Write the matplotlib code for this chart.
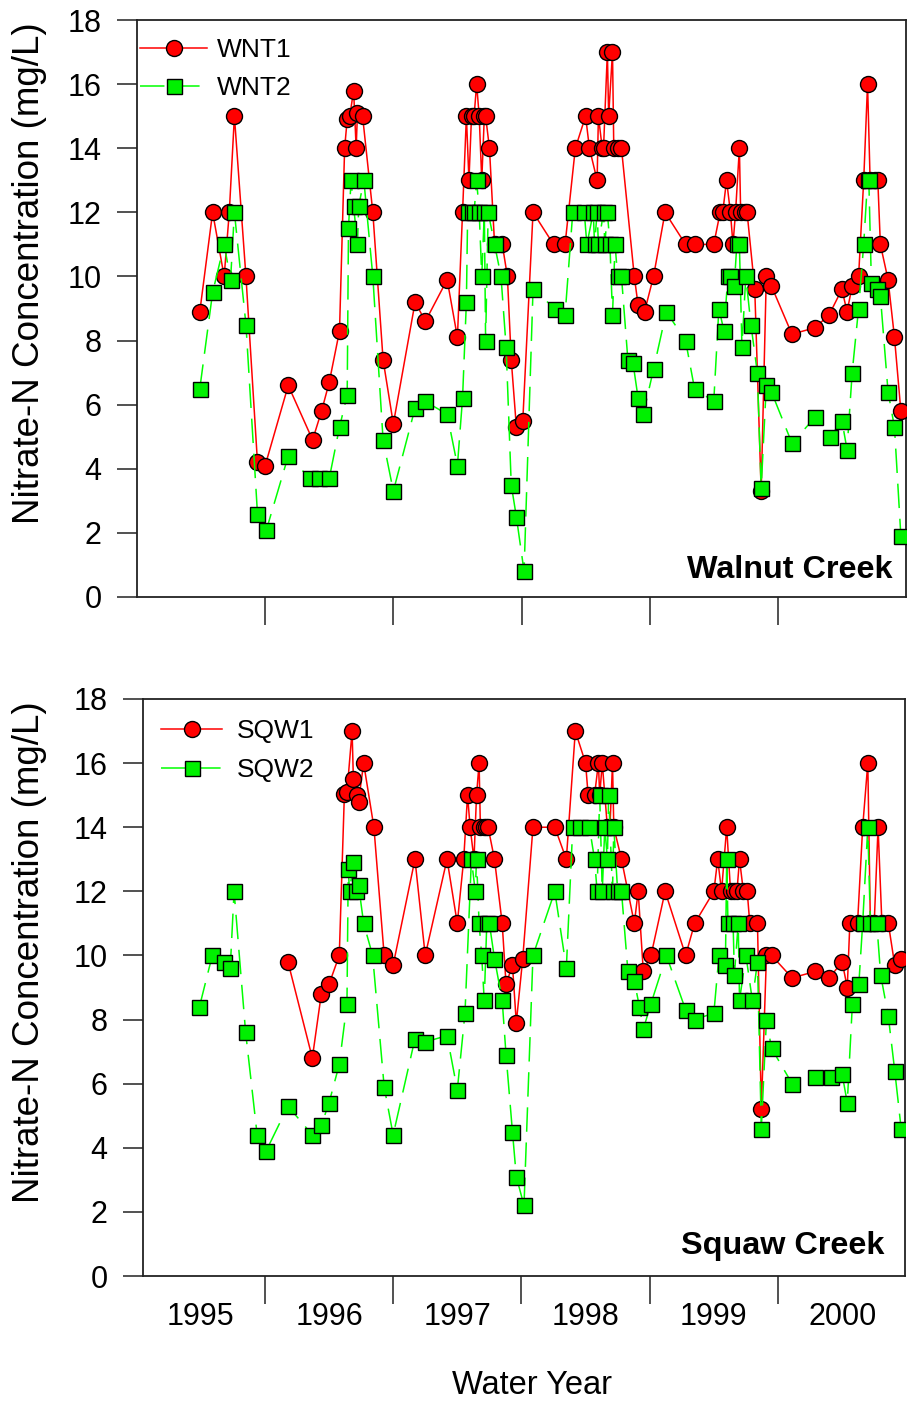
import matplotlib
matplotlib.use("Agg")
import matplotlib.pyplot as plt

plt.rcParams['font.family'] = ['Liberation Sans', 'DejaVu Sans']

# Walnut Creek wells (decimal year, nitrate-N mg/L)
wnt1_t = [1995.24, 1995.34, 1995.43, 1995.47, 1995.51, 1995.60, 1995.69, 1995.75,
          1995.93, 1996.12, 1996.19, 1996.25, 1996.33, 1996.37, 1996.39, 1996.41,
          1996.44, 1996.46, 1996.47, 1996.51, 1996.59, 1996.67, 1996.75, 1996.92,
          1997.00, 1997.17, 1997.25, 1997.29, 1997.32, 1997.34, 1997.36, 1997.38,
          1997.40, 1997.42, 1997.44, 1997.46, 1997.47, 1997.50, 1997.54, 1997.60,
          1997.64, 1997.67, 1997.71, 1997.76, 1997.84, 1998.00, 1998.09, 1998.17,
          1998.25, 1998.28, 1998.34, 1998.35, 1998.38, 1998.39, 1998.42, 1998.43,
          1998.46, 1998.47, 1998.50, 1998.53, 1998.63, 1998.66, 1998.71, 1998.78,
          1998.87, 1999.03, 1999.10, 1999.25, 1999.30, 1999.32, 1999.35, 1999.38,
          1999.40, 1999.42, 1999.45, 1999.46, 1999.49, 1999.51, 1999.57, 1999.62,
          1999.66, 1999.70, 1999.86, 2000.04, 2000.15, 2000.25, 2000.29, 2000.33,
          2000.38, 2000.42, 2000.45, 2000.47, 2000.51, 2000.53, 2000.55, 2000.61,
          2000.66, 2000.71]
wnt1 = [8.9, 12, 10, 12, 15, 10, 4.2, 4.1,
        6.6, 4.9, 5.8, 6.7, 8.3, 14, 14.9, 15,
        15.8, 14, 15.1, 15, 12, 7.4, 5.4, 9.2,
        8.6, 9.9, 8.1, 12, 15, 13, 15, 15,
        16, 15, 13, 15, 15, 14, 11, 11,
        10, 7.4, 5.3, 5.5, 12, 11, 11, 14,
        15, 14, 13, 15, 14, 14, 17, 15,
        17, 14, 14, 14, 10, 9.1, 8.9, 10,
        12, 11, 11, 11, 12, 12, 13, 12,
        11, 12, 14, 12, 12, 12, 9.6, 3.3,
        10, 9.7, 8.2, 8.4, 8.8, 9.6, 8.9, 9.7,
        10, 13, 16, 13, 13, 13, 11, 9.9,
        8.1, 5.8]

wnt2_t = [1995.24, 1995.34, 1995.43, 1995.48, 1995.51, 1995.60, 1995.69, 1995.76,
          1995.93, 1996.10, 1996.17, 1996.25, 1996.33, 1996.39, 1996.40, 1996.42,
          1996.44, 1996.47, 1996.48, 1996.52, 1996.59, 1996.67, 1996.75, 1996.92,
          1997.00, 1997.17, 1997.25, 1997.29, 1997.32, 1997.33, 1997.36, 1997.38,
          1997.40, 1997.42, 1997.44, 1997.46, 1997.47, 1997.49, 1997.54, 1997.59,
          1997.63, 1997.67, 1997.71, 1997.77, 1997.84, 1998.01, 1998.09, 1998.15,
          1998.24, 1998.26, 1998.31, 1998.32, 1998.34, 1998.35, 1998.39, 1998.40,
          1998.42, 1998.44, 1998.46, 1998.48, 1998.50, 1998.53, 1998.58, 1998.62,
          1998.66, 1998.70, 1998.78, 1998.88, 1999.03, 1999.10, 1999.25, 1999.29,
          1999.33, 1999.36, 1999.38, 1999.41, 1999.43, 1999.45, 1999.47, 1999.50,
          1999.54, 1999.59, 1999.62, 1999.66, 1999.70, 1999.86, 2000.04, 2000.16,
          2000.25, 2000.29, 2000.33, 2000.38, 2000.42, 2000.45, 2000.46, 2000.48,
          2000.52, 2000.55, 2000.61, 2000.66, 2000.71]
wnt2 = [6.5, 9.5, 11, 9.9, 12, 8.5, 2.6, 2.1,
        4.4, 3.7, 3.7, 3.7, 5.3, 6.3, 11.5, 13,
        12.2, 11, 12.2, 13, 10, 4.9, 3.3, 5.9,
        6.1, 5.7, 4.1, 6.2, 9.2, 12, 12, 12,
        13, 12, 10, 12, 8.0, 12, 11, 10,
        7.8, 3.5, 2.5, 0.8, 9.6, 9.0, 8.8, 12,
        12, 11, 12, 11, 12, 11, 12, 11,
        12, 11, 8.8, 11, 10, 10, 7.4, 7.3,
        6.2, 5.7, 7.1, 8.9, 8.0, 6.5, 6.1, 9.0,
        8.3, 10, 10, 9.7, 11, 11, 7.8, 10,
        8.5, 7.0, 3.4, 6.6, 6.4, 4.8, 5.6, 5.0,
        5.5, 4.6, 7.0, 9.0, 11, 13, 13, 9.8,
        9.6, 9.4, 6.4, 5.3, 1.9]

# Squaw Creek wells
sqw1_t = [1995.93, 1996.12, 1996.19, 1996.25, 1996.33, 1996.37, 1996.39, 1996.43,
          1996.44, 1996.47, 1996.48, 1996.52, 1996.60, 1996.68, 1996.75, 1996.92,
          1997.00, 1997.17, 1997.25, 1997.30, 1997.33, 1997.35, 1997.38, 1997.40,
          1997.42, 1997.43, 1997.46, 1997.47, 1997.49, 1997.54, 1997.60, 1997.63,
          1997.68, 1997.71, 1997.76, 1997.84, 1998.01, 1998.10, 1998.17, 1998.25,
          1998.27, 1998.32, 1998.35, 1998.36, 1998.38, 1998.42, 1998.44, 1998.46,
          1998.47, 1998.53, 1998.63, 1998.66, 1998.70, 1998.76, 1998.87, 1999.03,
          1999.10, 1999.25, 1999.28, 1999.31, 1999.35, 1999.38, 1999.41, 1999.43,
          1999.45, 1999.48, 1999.51, 1999.53, 1999.59, 1999.62, 1999.66, 1999.70,
          1999.86, 2000.04, 2000.15, 2000.25, 2000.29, 2000.31, 2000.37, 2000.41,
          2000.45, 2000.47, 2000.50, 2000.53, 2000.56, 2000.61, 2000.66, 2000.71]
sqw1 = [9.8, 6.8, 8.8, 9.1, 10.0, 15.05, 15.1, 17.0,
        15.5, 15.0, 14.8, 16.0, 14.0, 10.0, 9.7, 13.0,
        10.0, 13.0, 11.0, 13.0, 15.0, 14.0, 13.0, 15.0,
        16.0, 14.0, 14.0, 14.0, 14.0, 13.0, 11.0, 9.1,
        9.7, 7.9, 9.9, 14.0, 14.0, 13.0, 17.0, 16.0,
        15.0, 15.0, 16.0, 15.0, 16.0, 14.0, 14.0, 16.0,
        14.0, 13.0, 11.0, 12.0, 9.5, 10.0, 12.0, 10.0,
        11.0, 12.0, 13.0, 12.0, 14.0, 12.0, 12.0, 12.0,
        13.0, 12.0, 12.0, 11.0, 11.0, 5.2, 10.0, 10.0,
        9.3, 9.5, 9.3, 9.8, 9.0, 11.0, 11.0, 14.0,
        16.0, 11.0, 11.0, 14.0, 11.0, 11.0, 9.7, 9.9]

sqw2_t = [1995.24, 1995.34, 1995.43, 1995.48, 1995.51, 1995.60, 1995.69, 1995.76,
          1995.93, 1996.12, 1996.19, 1996.25, 1996.33, 1996.39, 1996.40, 1996.41,
          1996.44, 1996.46, 1996.48, 1996.52, 1996.59, 1996.68, 1996.75, 1996.92,
          1997.00, 1997.17, 1997.25, 1997.31, 1997.36, 1997.39, 1997.40, 1997.42,
          1997.44, 1997.46, 1997.48, 1997.50, 1997.54, 1997.60, 1997.63, 1997.68,
          1997.71, 1997.77, 1997.84, 1998.01, 1998.10, 1998.15, 1998.21, 1998.28,
          1998.32, 1998.34, 1998.36, 1998.38, 1998.40, 1998.42, 1998.43, 1998.46,
          1998.47, 1998.50, 1998.53, 1998.58, 1998.63, 1998.67, 1998.70, 1998.76,
          1998.88, 1999.03, 1999.10, 1999.25, 1999.29, 1999.34, 1999.35, 1999.36,
          1999.40, 1999.41, 1999.44, 1999.45, 1999.50, 1999.55, 1999.59, 1999.62,
          1999.66, 1999.70, 1999.86, 2000.04, 2000.16, 2000.25, 2000.29, 2000.33,
          2000.38, 2000.41, 2000.45, 2000.47, 2000.52, 2000.55, 2000.61, 2000.66,
          2000.71]
sqw2 = [8.4, 10.0, 9.8, 9.6, 12.0, 7.6, 4.4, 3.9,
        5.3, 4.4, 4.7, 5.4, 6.6, 8.5, 12.7, 12.0,
        12.9, 12.0, 12.2, 11.0, 10.0, 5.9, 4.4, 7.4,
        7.3, 7.5, 5.8, 8.2, 13.0, 12.0, 13.0, 11.0,
        10.0, 8.6, 11.0, 11.0, 9.9, 8.6, 6.9, 4.5,
        3.1, 2.2, 10.0, 12.0, 9.6, 14.0, 14.0, 14.0,
        13.0, 12.0, 15.0, 12.0, 14.0, 13.0, 15.0, 12.0,
        14.0, 12.0, 12.0, 9.5, 9.2, 8.4, 7.7, 8.5,
        10.0, 8.3, 8.0, 8.2, 10.0, 9.7, 13.0, 11.0,
        11.0, 9.4, 11.0, 8.6, 10.0, 8.6, 9.8, 4.6,
        8.0, 7.1, 6.0, 6.2, 6.2, 6.3, 5.4, 8.5,
        9.1, 11.0, 14.0, 11.0, 11.0, 9.4, 8.1, 6.4,
        4.6]

year_labels = ['1995', '1996', '1997', '1998', '1999', '2000']
year_centers = [1995.25, 1996.25, 1997.25, 1998.25, 1999.25, 2000.25]
year_bounds = [1995.75, 1996.75, 1997.75, 1998.75, 1999.75]

RED = '#ff0000'
GREEN = '#00f000'
LIME = '#00ff00'

fig = plt.figure(figsize=(9.08, 14.03), dpi=100)
ax1 = fig.add_axes([137 / 908, 1 - 597 / 1403, 769 / 908, 577 / 1403])
ax2 = fig.add_axes([143 / 908, 1 - 1276 / 1403, 762 / 908, 577 / 1403])


def draw_panel(ax, t1, v1, t2, v2, names, site, xlim, show_years, leg_anchor,
               handlelen, textpad, spacing, site_xy, ylab_x):
    ax.plot(t1, v1, '-', color=RED, lw=1.1, marker='o', ms=11.5,
            mfc=RED, mec='black', mew=1.0, label=names[0], zorder=3)
    ax.plot(t2, v2, color=LIME, lw=1.1, dashes=(16, 7), marker='s', ms=10.8,
            mfc=GREEN, mec='black', mew=1.0, label=names[1], zorder=4)

    ax.set_xlim(*xlim)
    ax.set_ylim(0, 18)
    ax.set_yticks(range(0, 19, 2))
    ax.tick_params(axis='y', direction='out', length=14.4, width=1.1,
                   labelsize=22, pad=11, color='#222222')
    ax.set_xticks(year_bounds)
    ax.set_xticklabels([])
    ax.tick_params(axis='x', which='major', direction='out', length=20,
                   width=1.1, color='#222222')
    ax.set_xticks(year_centers, minor=True)
    if show_years:
        ax.set_xticklabels(year_labels, minor=True)
    ax.tick_params(axis='x', which='minor', length=0, labelsize=22, pad=19)
    for s in ax.spines.values():
        s.set_linewidth(1.3)
        s.set_color('#222222')

    ax.set_ylabel('Nitrate-N Concentration (mg/L)', fontsize=26.5)
    ax.yaxis.set_label_coords(ylab_x, 0.5615)

    ax.legend(loc='upper left', bbox_to_anchor=leg_anchor, frameon=False,
              fontsize=19, handlelength=handlelen, handletextpad=textpad,
              borderpad=0, borderaxespad=0, labelspacing=spacing)
    ax.text(site_xy[0], site_xy[1], site, transform=ax.transAxes,
            ha='right', va='baseline', fontsize=23.3, fontweight='bold')


draw_panel(ax1, wnt1_t, wnt1, wnt2_t, wnt2, ['WNT1', 'WNT2'], 'Walnut Creek',
           (1994.75, 2000.75), False, (0.004, 0.968), 2.55, 0.35, 0.53,
           (0.982, 0.033), -0.1175)
draw_panel(ax2, sqw1_t, sqw1, sqw2_t, sqw2, ['SQW1', 'SQW2'], 'Squaw Creek',
           (1994.80, 2000.74), True, (0.024, 0.965), 2.3, 0.57, 0.57,
           (0.9725, 0.038), -0.126)

fig.text(532 / 908, 1 - 1385 / 1403, 'Water Year', ha='center', va='center',
         fontsize=23.5)

fig.savefig('out.png', dpi=100)
